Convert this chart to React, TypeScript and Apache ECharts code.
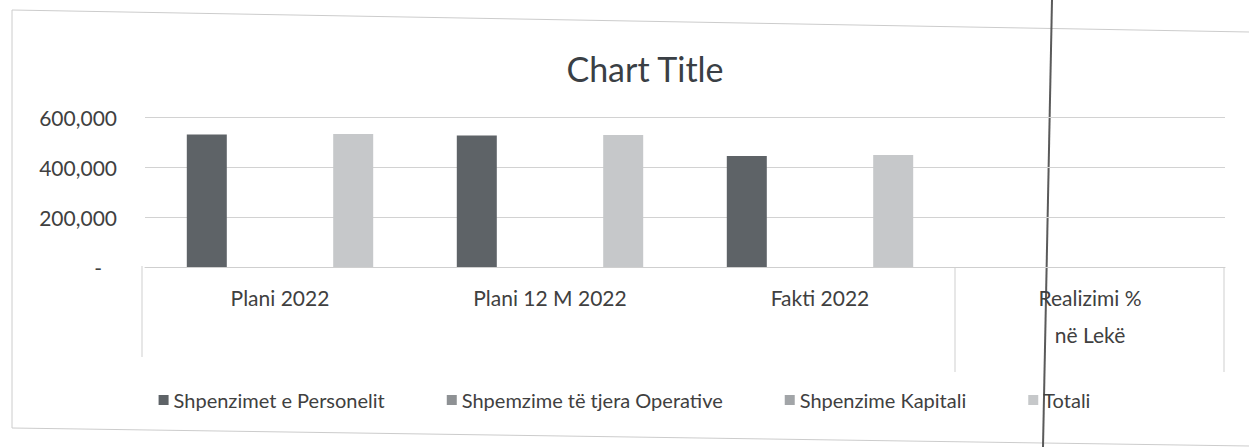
import React, { useEffect, useRef } from "react";
import * as echarts from "echarts";

const categories = ["Plani 2022", "Plani 12 M 2022", "Fakti 2022", "Realizimi %\nnë Lekë"];
const seriesNames = [
  "Shpenzimet e Personelit",
  "Shpemzime të tjera Operative",
  "Shpenzime Kapitali",
  "Totali",
];
const personelit = [530000, 526000, 444000, 0];
const operative = [0, 0, 0, 0];
const kapitali = [0, 0, 0, 0];
const totali = [532000, 528000, 448000, 0];
const yTicks = [0, 200000, 400000, 600000];
const colors = ["#5e6367", "#8e9194", "#a2a5a8", "#c6c8ca"];

const FONT = "Lato, 'Open Sans', sans-serif";
const TXT = "#404040";

export default function App() {
  const ref = useRef<HTMLDivElement>(null);
  useEffect(() => {
    if (!ref.current) return;
    const chart = echarts.init(ref.current, null, { renderer: "svg" });
    const data = [personelit, operative, kapitali, totali];
    const lineStyle = { stroke: "#cfcfcf", lineWidth: 1 };
    chart.setOption({
      animation: false,
      backgroundColor: "#ffffff",
      title: {
        text: "Chart Title",
        left: 640,
        textAlign: "center",
        top: 46,
        textStyle: { fontFamily: FONT, fontSize: 34, fontWeight: "normal", color: "#3a3f45" },
      },
      grid: { left: 145, right: 24, top: 117, bottom: 180, containLabel: false },
      legend: {
        data: seriesNames,
        left: "center",
        top: 385,
        icon: "rect",
        itemWidth: 10,
        itemHeight: 10,
        itemGap: 62,
        textStyle: { fontFamily: FONT, fontSize: 20, color: TXT },
      },
      xAxis: {
        type: "category",
        data: categories,
        axisLine: { show: true, lineStyle: { color: "#cfcfcf", width: 1 } },
        axisTick: { show: false },
        axisLabel: {
          interval: 0,
          margin: 12,
          verticalAlign: "top",
          lineHeight: 37,
          fontFamily: FONT,
          fontSize: 21,
          color: TXT,
        },
      },
      yAxis: {
        type: "value",
        min: 0,
        max: 600000,
        interval: 200000,
        axisLine: { show: false },
        axisTick: { show: false },
        splitLine: { lineStyle: { color: "#d2d2d2", width: 1 } },
        axisLabel: {
          margin: 28,
          fontFamily: FONT,
          fontSize: 21,
          color: TXT,
          formatter: (v: number) =>
            v === 0 ? "{d|-}" : v.toLocaleString("en-US"),
          rich: { d: { padding: [0, 15, 0, 0], fontFamily: FONT, fontSize: 21, color: TXT } },
        },
      },
      series: seriesNames.map((name, i) => ({
        name,
        type: "bar",
        data: data[i],
        barWidth: 40,
        barGap: "22%",
        itemStyle: { color: colors[i] },
      })),
      graphic: [
        { type: "line", shape: { x1: 142, y1: 266, x2: 142, y2: 357 }, style: lineStyle, silent: true },
        { type: "line", shape: { x1: 955, y1: 268, x2: 955, y2: 372 }, style: lineStyle, silent: true },
        { type: "line", shape: { x1: 1224, y1: 268, x2: 1224, y2: 372 }, style: lineStyle, silent: true },
        { type: "polyline", shape: { points: [[1249, 32], [12, 10], [12, 428], [1249, 446]] }, style: { stroke: "#cccccc", lineWidth: 1, fill: null }, silent: true },
        { type: "line", shape: { x1: 1052, y1: 0, x2: 1043, y2: 447 }, style: { stroke: "#5a5a5a", lineWidth: 2 }, silent: true },
      ],
    });
    return () => chart.dispose();
  }, []);
  return <div ref={ref} style={{ position: "fixed", left: 0, top: 0, width: 1249, height: 447 }} />;
}
